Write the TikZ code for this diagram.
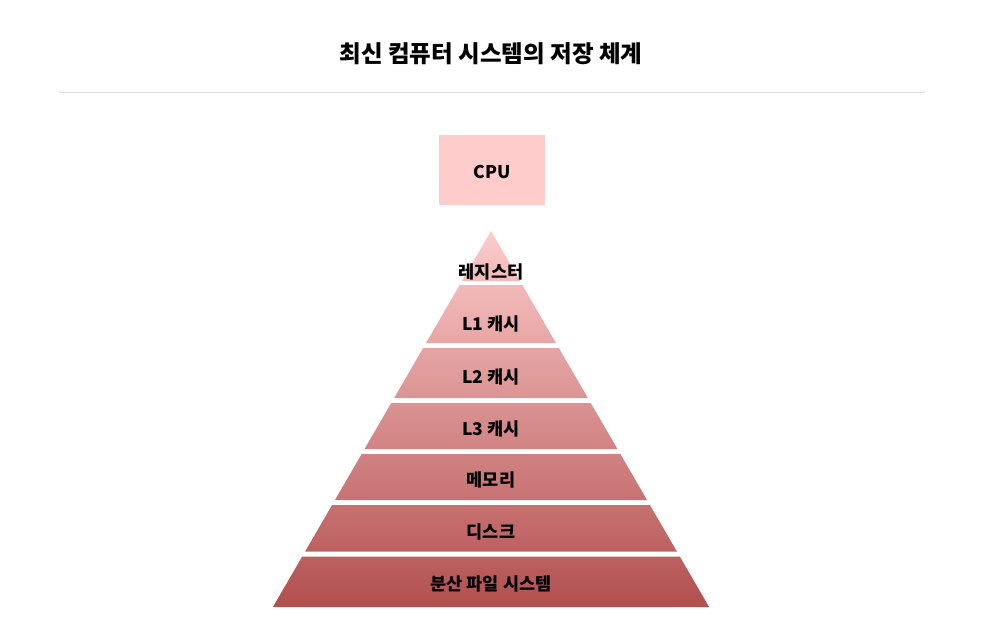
\documentclass[tikz,border=0pt]{standalone}
\usepackage{fontspec}
\setmainfont{Noto Sans CJK KR}
\begin{document}
\begin{tikzpicture}[x=1pt,y=-1pt,
  lbl/.style={font=\fontsize{17.5}{20}\selectfont\bfseries, text=black, inner sep=0pt},
  ttl/.style={font=\fontsize{23.5}{26}\selectfont\bfseries, text=black, inner sep=0pt}]
\definecolor{cpuc}{HTML}{FFCCCC}
\definecolor{topc}{HTML}{FDCBCB}
\definecolor{botc}{HTML}{B24F4F}
\definecolor{rulec}{HTML}{DDDDDD}
\useasboundingbox[fill=white] (0,0) rectangle (984,620);
\node[ttl] (title) at (491,53.5) {최신 컴퓨터 시스템의 저장 체계};
\coordinate (rl) at (59,92.5);
\coordinate (rr) at (925,92.5);
\draw[rulec, line width=1pt] (rl) -- (rr);
\node[fill=cpuc, minimum width=106pt, minimum height=70pt, inner sep=0pt] (cpu) at (492,170) {};
\node[lbl] (cpulbl) at (492,171.5) {CPU};
\begin{scope}
  \clip \foreach \t/\b in {231/281,285/343,348/398,403/449,454/500,505/551.5,556.5/607}
    { ({491-0.58*(\t-231)},\t) -- ({491+0.58*(\t-231)},\t) -- ({491+0.58*(\b-231)},\b) -- ({491-0.58*(\b-231)},\b) -- cycle };
  \shade[top color=topc, bottom color=botc] (260,231) rectangle (722,607);
\end{scope}
\node[lbl] (reg) at (491,271.5) {레지스터};
\node[lbl] (l1) at (491,323.5) {L1 캐시};
\node[lbl] (l2) at (491,376.5) {L2 캐시};
\node[lbl] (l3) at (491,428.5) {L3 캐시};
\node[lbl] (mem) at (491,479.5) {메모리};
\node[lbl] (disk) at (491,531.5) {디스크};
\node[lbl] (fs) at (491,583.5) {분산 파일 시스템};
\end{tikzpicture}
\end{document}
